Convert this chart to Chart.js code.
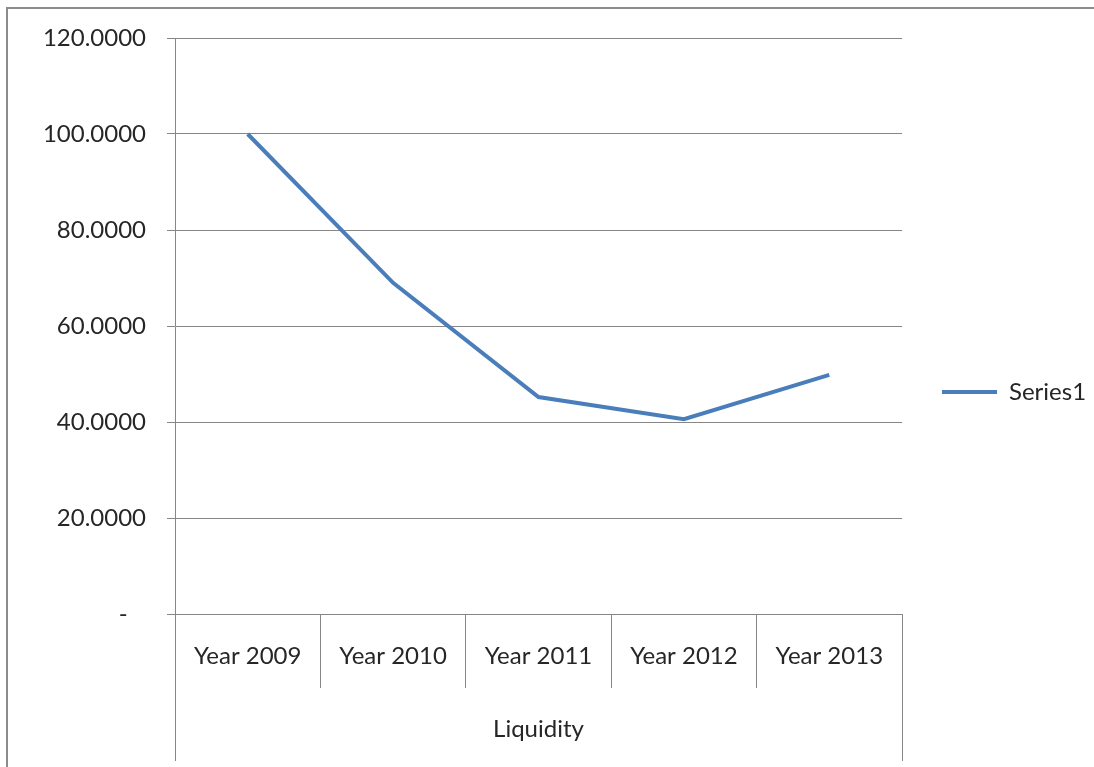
<!DOCTYPE html>
<html>
<head>
<meta charset="utf-8">
<script src="https://cdn.jsdelivr.net/npm/chart.js@4/dist/chart.umd.min.js"></script>
<style>
html,body{margin:0;padding:0;background:#fff;}
#wrap{width:1094px;height:767px;position:relative;}
</style>
</head>
<body>
<div id="wrap"><canvas id="c" width="1094" height="767"></canvas></div>
<script>
const categories = ['Year 2009', 'Year 2010', 'Year 2011', 'Year 2012', 'Year 2013'];
const series1 = [100.0, 69.0, 45.2, 40.6, 49.8];
const seriesName = 'Series1';
const groupLabel = 'Liquidity';
const yTicks = [0, 20, 40, 60, 80, 100, 120];

const GRID = '#868686';
const TEXT = '#262626';

Chart.defaults.font.family = 'Lato';
Chart.defaults.font.size = 24;
Chart.defaults.color = TEXT;

const framePlugin = {
  id: 'frame',
  beforeDraw(chart) {
    const ctx = chart.ctx;
    ctx.save();
    ctx.strokeStyle = '#8c8c8c';
    ctx.lineWidth = 2;
    ctx.beginPath();
    ctx.moveTo(7, 767);
    ctx.lineTo(7, 8);
    ctx.lineTo(1094, 8);
    ctx.stroke();
    ctx.restore();
  }
};

const groupLinesPlugin = {
  id: 'groupLines',
  afterDraw(chart) {
    const ctx = chart.ctx;
    const xs = chart.scales.x;
    const area = chart.chartArea;
    ctx.save();
    ctx.strokeStyle = GRID;
    ctx.lineWidth = 1;
    ctx.beginPath();
    [xs.left, xs.right].forEach(px => {
      const x = Math.round(px) + 0.5;
      ctx.moveTo(x, area.bottom);
      ctx.lineTo(x, 761);
    });
    ctx.stroke();
    ctx.restore();
  }
};

new Chart(document.getElementById('c'), {
  type: 'line',
  data: {
    labels: categories,
    datasets: [{
      label: seriesName,
      data: series1,
      borderColor: '#4a7ebb',
      backgroundColor: '#4a7ebb',
      borderWidth: 4,
      pointRadius: 0,
      pointHoverRadius: 0,
      tension: 0,
      fill: false
    }]
  },
  options: {
    responsive: false,
    animation: false,
    devicePixelRatio: 1,
    layout: { padding: { left: 0, top: 38, right: 0, bottom: 21 } },
    plugins: {
      tooltip: { enabled: false },
      legend: {
        position: 'right',
        align: 'center',
        maxWidth: 192,
        labels: {
          usePointStyle: true,
          pointStyle: 'line',
          pointStyleWidth: 55,
          padding: 40,
          color: TEXT,
          font: { size: 24 }
        }
      }
    },
    scales: {
      x: {
        type: 'category',
        offset: true,
        afterFit(scale) { scale.height = 132; },
        grid: {
          offset: true,
          drawOnChartArea: false,
          drawTicks: true,
          tickLength: 74,
          color: ctx => (ctx.index === 0 || ctx.index >= categories.length) ? 'rgba(0,0,0,0)' : GRID,
          lineWidth: 1
        },
        border: { display: true, color: GRID, width: 1 },
        ticks: { padding: -46, color: TEXT, maxRotation: 0, autoSkip: false },
        title: {
          display: true,
          text: groupLabel,
          color: TEXT,
          font: { size: 24 },
          padding: { top: 0, bottom: 2 }
        }
      },
      y: {
        min: 0,
        max: 120,
        afterFit(scale) { scale.width = 175; },
        afterBuildTicks(scale) { scale.ticks = yTicks.map(v => ({ value: v })); },
        grid: {
          color: GRID,
          lineWidth: 1,
          drawTicks: true,
          tickLength: 8
        },
        border: { display: true, color: GRID, width: 1 },
        ticks: {
          padding: 21,
          color: TEXT,
          callback: v => v === 0 ? '-   ' : Number(v).toFixed(4)
        }
      }
    }
  },
  plugins: [framePlugin, groupLinesPlugin]
});
</script>
</body>
</html>
